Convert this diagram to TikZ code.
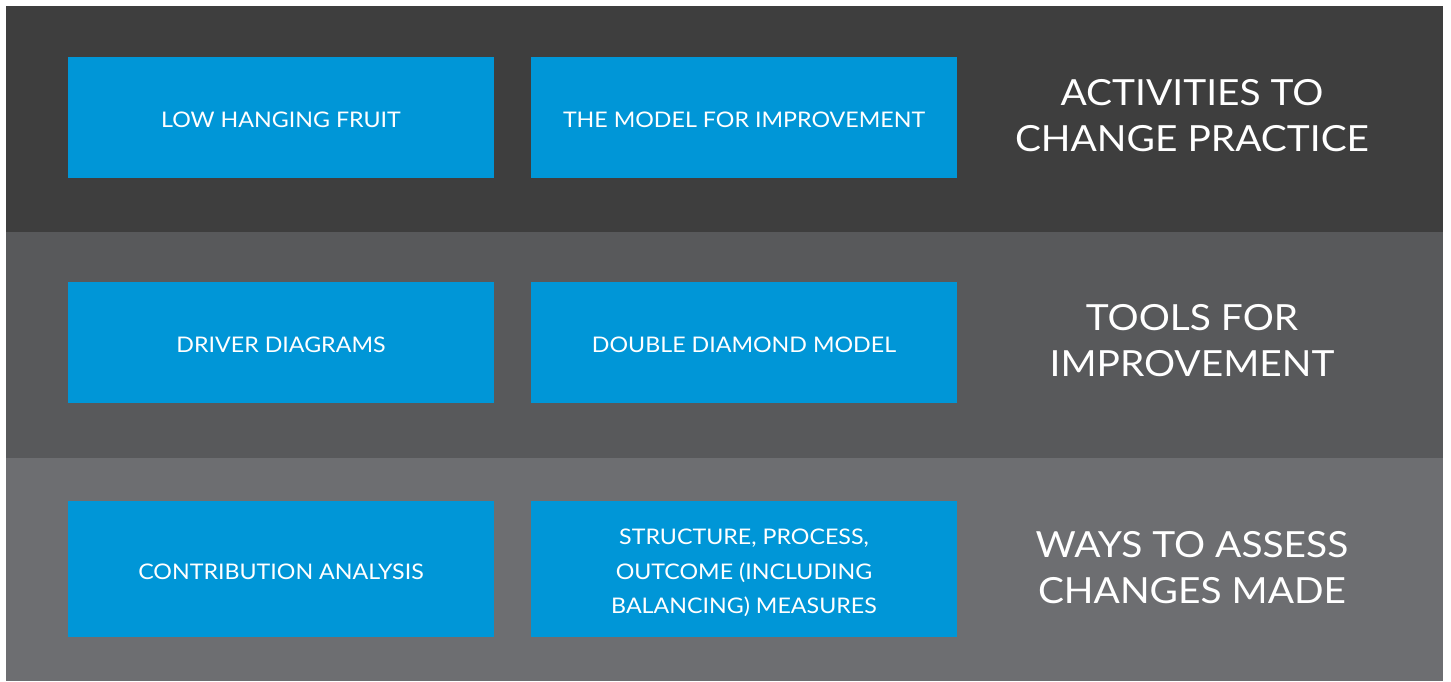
\documentclass[tikz,border=0pt]{standalone}
\usepackage{fontspec}
\setmainfont{Lato}[FakeStretch=1.08]
\definecolor{bandA}{HTML}{3E3E3E}
\definecolor{bandB}{HTML}{58595B}
\definecolor{bandC}{HTML}{6D6E71}
\definecolor{boxblue}{HTML}{0096D7}
\newcommand{\lowertext}[1]{\raisebox{-2.5pt}[\height][\depth]{#1}}
\begin{document}
\begin{tikzpicture}[x=1pt,y=-1pt,
  boxfont/.style={font=\fontsize{21.5}{34.5}\selectfont},
  bluebox/.style={fill=boxblue, draw=none, text=white, minimum width=426pt, inner sep=0pt, align=center, boxfont},
  boxtext/.style={text=white, align=center, inner sep=0pt, boxfont},
  heading/.style={text=white, align=center, inner sep=0pt, font=\fontsize{36}{46}\selectfont}]
\useasboundingbox (0,0) rectangle (1451,681);
\fill[white] (0,0) rectangle (1451,681);
\fill[bandA] (6,6) rectangle (1443,232);
\fill[bandB] (6,232) rectangle (1443,458);
\fill[bandC] (6,458) rectangle (1443,681);
% row 1
\node[bluebox, minimum height=121pt] (lhf) at (281,117.5) {\lowertext{LOW HANGING FRUIT}};
\node[bluebox, minimum height=121pt] (mfi) at (744,117.5) {\lowertext{THE MODEL FOR IMPROVEMENT}};
\node[heading] (h1) at (1192,115.5) {ACTIVITIES TO\\CHANGE PRACTICE};
% row 2
\node[bluebox, minimum height=121pt] (dd) at (281,342.5) {\lowertext{DRIVER DIAGRAMS}};
\node[bluebox, minimum height=121pt] (ddm) at (744,342.5) {\lowertext{DOUBLE DIAMOND MODEL}};
\node[heading] (h2) at (1192,340.5) {TOOLS FOR\\IMPROVEMENT};
% row 3
\node[bluebox, minimum height=136pt] (ca) at (281,569) {\lowertext{CONTRIBUTION ANALYSIS}};
\node[bluebox, minimum height=136pt] (spo) at (744,569) {};
\node[boxtext] (spot) at (spo.center) [yshift=-4pt] {STRUCTURE, PROCESS,\\OUTCOME (INCLUDING\\BALANCING) MEASURES};
\node[heading] (h3) at (1192,567.5) {WAYS TO ASSESS\\CHANGES MADE};
\end{tikzpicture}
\end{document}
